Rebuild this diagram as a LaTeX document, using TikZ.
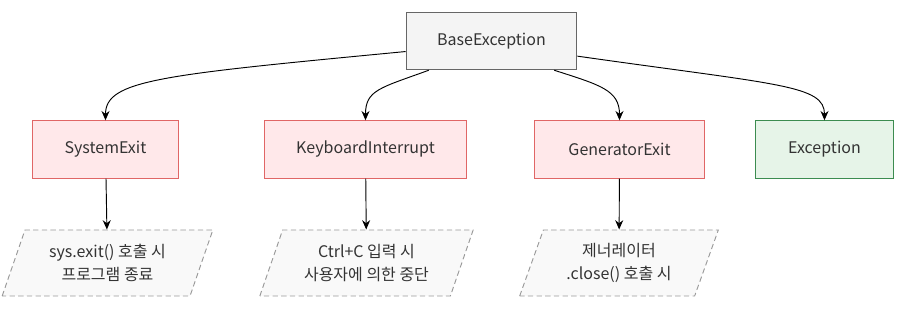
\documentclass[tikz,border=0pt]{standalone}
\usepackage{fontspec}
\setmainfont{Noto Sans CJK KR}
\usetikzlibrary{shapes.geometric, arrows.meta}

\definecolor{basefill}{HTML}{F4F4F4}
\definecolor{basedraw}{HTML}{666666}
\definecolor{errfill}{HTML}{FFE8EA}
\definecolor{errdraw}{HTML}{E06666}
\definecolor{okfill}{HTML}{E6F4E8}
\definecolor{okdraw}{HTML}{3C8C50}
\definecolor{notefill}{HTML}{F9F9F9}
\definecolor{notedraw}{HTML}{999999}
\definecolor{txt}{HTML}{333333}

\tikzset{
    box/.style={draw, line width=0.8pt, text=txt, minimum height=43pt,
        font=\fontsize{12}{15}\selectfont},
    basebox/.style={box, fill=basefill, draw=basedraw},
    errbox/.style={box, fill=errfill, draw=errdraw},
    okbox/.style={box, fill=okfill, draw=okdraw},
    notebox/.style={trapezium, trapezium left angle=64, trapezium right angle=116,
        trapezium stretches body, draw=notedraw, fill=notefill, dashed,
        dash pattern=on 4pt off 2.5pt, line width=0.7pt, text=txt,
        minimum height=49.5pt, minimum width=#1, align=center,
        font=\fontsize{12}{17.5}\selectfont},
    link/.style={-{Stealth[length=7pt, width=6pt]}, line width=0.7pt, black}
}

\begin{document}
\begin{tikzpicture}[x=0.75pt, y=-0.75pt]
    \useasboundingbox (0, 0) rectangle (908, 309);

    % Top class
    \node[basebox, minimum width=128pt] (base) at (491.5, 41) {BaseException};

    % Subclasses
    \node[errbox, minimum width=109pt] (sysexit) at (105.5, 149.5) {SystemExit};
    \node[errbox, minimum width=151pt] (kbint) at (365.5, 149.5) {KeyboardInterrupt};
    \node[errbox, minimum width=127pt] (genexit) at (619.5, 149.5) {GeneratorExit};
    \node[okbox, minimum width=103pt] (exc) at (824.5, 149.5) {Exception};

    % Notes
    \node[notebox=158pt] (sysnote) at (107.5, 263) {sys.exit() 호출 시\\프로그램 종료};
    \node[notebox=160pt] (kbnote) at (366.5, 263) {Ctrl+C 입력 시\\사용자에 의한 중단};
    \node[notebox=149pt] (gennote) at (619, 263) {제너레이터\\.close() 호출 시};

    % Inheritance links
    \draw[link] (base.187) .. controls (160, 75) and (105.5, 80) .. (sysexit.north);
    \draw[link] (base.205) .. controls (380, 88) and (365.5, 90) .. (kbint.north);
    \draw[link] (base.335) .. controls (600, 85) and (619.5, 90) .. (genexit.north);
    \draw[link] (base.350.7) .. controls (780, 85) and (824.5, 85) .. (exc.north);

    % Note links
    \draw[link] (sysexit) -- (sysnote);
    \draw[link] (kbint) -- (kbnote);
    \draw[link] (genexit) -- (gennote);
\end{tikzpicture}
\end{document}
